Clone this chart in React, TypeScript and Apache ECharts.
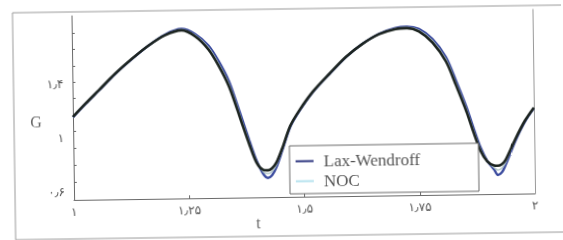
import React, { useEffect, useRef } from "react";
import * as echarts from "echarts";

const tValues = [1.000, 1.028, 1.057, 1.093, 1.130, 1.166, 1.202, 1.238, 1.267, 1.296, 1.317, 1.339, 1.354, 1.368, 1.382, 1.397, 1.411, 1.421, 1.430, 1.440, 1.453, 1.471, 1.492, 1.521, 1.558, 1.594, 1.630, 1.666, 1.702, 1.727, 1.753, 1.782, 1.811, 1.832, 1.854, 1.868, 1.883, 1.897, 1.912, 1.920, 1.929, 1.937, 1.959, 1.980, 2.000];

const laxWendroff = [1.152, 1.250, 1.347, 1.469, 1.578, 1.675, 1.755, 1.795, 1.757, 1.669, 1.557, 1.407, 1.258, 1.109, 0.961, 0.812, 0.712, 0.682, 0.700, 0.761, 0.883, 1.056, 1.177, 1.312, 1.446, 1.569, 1.665, 1.738, 1.780, 1.789, 1.771, 1.695, 1.558, 1.383, 1.185, 1.036, 0.887, 0.787, 0.720, 0.680, 0.700, 0.753, 0.930, 1.070, 1.170];

const darkCurve = [1.155, 1.253, 1.350, 1.471, 1.580, 1.675, 1.750, 1.785, 1.740, 1.640, 1.522, 1.368, 1.220, 1.072, 0.930, 0.795, 0.742, 0.738, 0.752, 0.795, 0.900, 1.065, 1.183, 1.316, 1.449, 1.571, 1.665, 1.735, 1.772, 1.778, 1.752, 1.668, 1.525, 1.348, 1.150, 1.003, 0.862, 0.782, 0.750, 0.748, 0.760, 0.790, 0.945, 1.078, 1.175];

const noc = [1.153, 1.251, 1.348, 1.470, 1.579, 1.675, 1.752, 1.790, 1.748, 1.655, 1.540, 1.388, 1.240, 1.090, 0.945, 0.802, 0.728, 0.712, 0.728, 0.778, 0.892, 1.060, 1.180, 1.314, 1.448, 1.570, 1.665, 1.736, 1.776, 1.783, 1.762, 1.682, 1.542, 1.366, 1.168, 1.020, 0.875, 0.785, 0.735, 0.716, 0.732, 0.772, 0.938, 1.074, 1.172];

const xLabelValues = [1, 1.25, 1.5, 1.75, 2];
const xLabelTexts = ["۱", "۱٫۲۵", "۱٫۵", "۱٫۷۵", "۲"];
const xTickValues = [1.25, 1.5, 1.75];
const yLabelValues = [0.6, 1, 1.4];
const yLabelTexts = ["۰٫۶", "۱", "۱٫۴"];
const yTickValues = [0.67, 0.795, 0.92, 1.045, 1.165, 1.29, 1.41, 1.53, 1.655, 1.775];

const seriesNames = ["Lax-Wendroff", "NOC"];

function lookup(values: number[], texts: string[], v: number): string {
  for (let i = 0; i < values.length; i++) {
    if (Math.abs(values[i] - v) < 1e-6) return texts[i];
  }
  return "";
}

export default function App() {
  const ref = useRef<HTMLDivElement>(null);
  useEffect(() => {
    if (!ref.current) return;
    const chart = echarts.init(ref.current, undefined, { renderer: "svg" });
    const axisColor = "#6a6a6a";
    const labelFont = { fontFamily: "DejaVu Sans", fontSize: 12, color: "#555" };
    chart.setOption({
      animation: false,
      backgroundColor: "#ffffff",
      grid: { left: 73, right: 29, top: 13, bottom: 43 },
      xAxis: {
        type: "value",
        min: 1,
        max: 2,
        axisLine: { show: true, lineStyle: { color: axisColor, width: 1 } },
        axisTick: { show: true, inside: true, length: 3, customValues: xTickValues, lineStyle: { color: axisColor } },
        axisLabel: {
          ...labelFont,
          margin: 6,
          customValues: xLabelValues,
          formatter: (v: number) => lookup(xLabelValues, xLabelTexts, v),
        },
        splitLine: { show: false },
      },
      yAxis: [
        {
          type: "value",
          min: 0.539,
          max: 1.903,
          axisLine: { show: true, lineStyle: { color: axisColor, width: 1 } },
          axisTick: { show: true, inside: true, length: 3, customValues: yTickValues, lineStyle: { color: axisColor } },
          axisLabel: {
            ...labelFont,
            margin: 9,
            customValues: yLabelValues,
            formatter: (v: number) => lookup(yLabelValues, yLabelTexts, v),
          },
          splitLine: { show: false },
        },
        {
          type: "value",
          position: "right",
          min: 0.539,
          max: 1.903,
          axisLine: { show: true, lineStyle: { color: "#9a9a9a", width: 1 } },
          axisTick: { show: false },
          axisLabel: { show: false },
          splitLine: { show: false },
        },
      ],
      legend: {
        data: [
          { name: seriesNames[0], icon: "rect", itemStyle: { color: "#2e3780" } },
          { name: seriesNames[1], icon: "rect", itemStyle: { color: "#b6e2ee" } },
        ],
        orient: "vertical",
        left: 295,
        top: 153,
        padding: 0,
        itemGap: 3,
        itemWidth: 18,
        itemHeight: 2,
        textStyle: {
          fontFamily: "Liberation Serif",
          fontSize: 17,
          lineHeight: 17,
          color: "#555",
          padding: [0, 0, 0, 5],
        },
        z: 6,
      },
      graphic: [
        {
          type: "polyline",
          shape: { points: [[563, 9], [14, 9], [14, 236], [563, 236]] },
          style: { stroke: "#9a9a9a", lineWidth: 1, fill: null },
          silent: true,
        },
        {
          type: "rect",
          shape: { x: 289, y: 146, width: 189, height: 48 },
          style: { fill: "#ffffff", stroke: "#6a6a6a", lineWidth: 1 },
          z: 5,
          silent: true,
        },
        {
          type: "text",
          x: 36,
          y: 118,
          style: { text: "G", font: "16px 'Liberation Serif'", fill: "#666", textAlign: "center", textVerticalAlign: "middle" },
        },
        {
          type: "text",
          x: 257,
          y: 222,
          style: { text: "t", font: "16px 'Liberation Serif'", fill: "#666", textAlign: "center", textVerticalAlign: "middle" },
        },
      ],
      series: [
        {
          name: "Lax-Wendroff",
          type: "line",
          data: tValues.map((t, i) => [t, laxWendroff[i]]),
          symbol: "none",
          smooth: 0.3,
          lineStyle: { color: "#3a4a9e", width: 2.4 },
          itemStyle: { color: "#2e3780" },
          z: 2,
        },
        {
          name: "NOC",
          type: "line",
          data: tValues.map((t, i) => [t, noc[i]]),
          symbol: "none",
          smooth: 0.3,
          lineStyle: { color: "#b4c9cc", width: 1.4 },
          itemStyle: { color: "#b6e2ee" },
          z: 3,
        },
        {
          name: "Reference",
          type: "line",
          data: tValues.map((t, i) => [t, darkCurve[i]]),
          symbol: "none",
          smooth: 0.3,
          lineStyle: { color: "#1c2420", width: 2.6 },
          z: 4,
        },
      ],
    });
    return () => chart.dispose();
  }, []);
  return (
    <div
      ref={ref}
      style={{
        position: "fixed",
        left: 0,
        top: 0,
        width: 563,
        height: 240,
        background: "#fff",
        transform: "rotate(-0.81deg)",
      }}
    />
  );
}
